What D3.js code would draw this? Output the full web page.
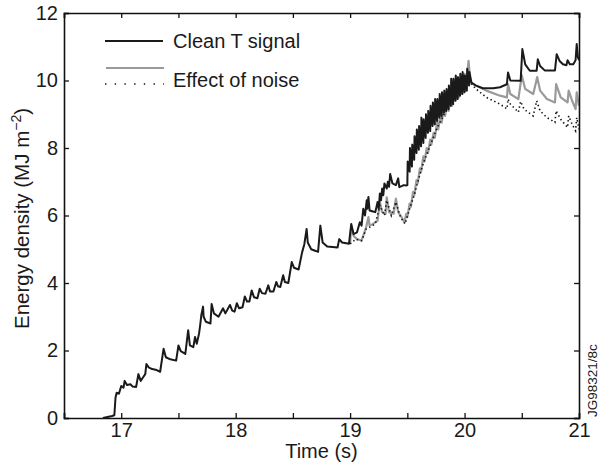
<!DOCTYPE html>
<html>
<head>
<meta charset="utf-8">
<script src="https://cdnjs.cloudflare.com/ajax/libs/d3/7.8.5/d3.min.js"></script>
<style>
  body { margin: 0; background: #fff; }
  svg text { font-family: "Liberation Sans", Arial, sans-serif; fill: #1a1a1a; }
</style>
</head>
<body>
<div id="chart"></div>
<script>
// axis ticks
const xTicks = [16.5, 17, 17.5, 18, 18.5, 19, 19.5, 20, 20.5, 21];
const xLabels = [17, 18, 19, 20, 21];
const yTicks = [0, 2, 4, 6, 8, 10, 12];

// clean T signal [time (s), energy density (MJ m^-2)]
const cleanSignal = [
  [16.84,0],[16.88,0.03],[16.92,0.06],[16.94,0.08],[16.95,0.6],[16.96,0.75],[16.98,0.72],
  [17.00,0.95],[17.02,0.9],[17.03,1.1],[17.05,0.98],[17.08,1.0],[17.10,0.93],[17.13,0.92],[17.15,1.3],
  [17.17,1.1],[17.19,1.2],[17.21,1.3],[17.22,1.6],[17.24,1.5],[17.27,1.45],[17.31,1.42],[17.34,1.37],
  [17.37,2.05],[17.39,1.8],[17.42,1.75],[17.48,1.7],[17.50,2.15],[17.52,1.98],[17.56,1.9],[17.585,2.6],
  [17.60,2.15],[17.63,2.1],[17.645,2.4],[17.66,2.2],[17.68,2.5],[17.69,2.75],[17.70,3.05],[17.715,3.3],
  [17.72,3.0],[17.74,2.85],[17.78,2.8],[17.79,3.38],[17.81,3.1],[17.85,3.0],[17.89,3.25],[17.91,3.1],
  [17.95,3.35],[17.97,3.18],[17.99,3.15],[18.01,3.4],[18.03,3.25],[18.06,3.28],[18.08,3.6],[18.10,3.45],
  [18.12,3.45],[18.14,3.78],[18.16,3.58],[18.19,3.55],[18.21,3.83],[18.23,3.7],[18.26,3.68],[18.285,3.93],
  [18.30,3.75],[18.33,3.75],[18.355,4.03],[18.37,3.9],[18.39,3.88],[18.415,4.23],[18.43,4.03],[18.46,4.0],
  [18.49,4.62],[18.51,4.45],[18.55,4.4],[18.58,4.9],[18.60,5.15],[18.62,5.6],[18.63,5.2],[18.66,5.0],
  [18.70,4.95],[18.72,4.92],[18.74,5.7],[18.76,5.2],[18.80,5.08],[18.89,5.05],[18.905,5.3],[18.93,5.2],
  [18.99,5.16],[19.01,5.75],[19.03,5.45],[19.06,5.5],[19.085,5.8],[19.10,5.7],[19.115,6.2],[19.13,6.0],
  [19.145,6.45],[19.15,6.2],[19.16,6.55],[19.17,6.15],[19.20,6.12],[19.22,6.1],[19.24,6.4],[19.25,6.2],
  [19.26,6.65],[19.27,6.45],[19.28,6.8],[19.29,6.6],[19.30,6.95],[19.32,6.8],[19.33,7.0],[19.34,6.85],
  [19.35,7.23],[19.37,6.95],[19.40,6.9],[19.42,7.1],[19.43,6.84],[19.47,6.9],[19.49,6.89],
  [19.500,6.90],[19.503,7.60],[19.520,7.30],[19.523,8.00],[19.540,7.45],[19.543,8.10],[19.560,7.65],
  [19.563,8.35],[19.580,7.85],[19.583,8.55],[19.600,7.95],[19.603,8.65],[19.620,8.05],[19.623,8.90],
  [19.640,8.15],[19.643,8.85],[19.660,8.30],[19.663,9.00],[19.680,8.45],[19.683,9.10],[19.700,8.50],
  [19.703,9.25],[19.720,8.65],[19.723,9.35],[19.740,8.70],[19.743,9.45],[19.760,8.80],[19.763,9.45],
  [19.780,8.90],[19.783,9.60],[19.800,8.95],[19.803,9.65],[19.820,9.05],[19.823,9.70],[19.840,9.10],
  [19.843,9.75],[19.860,9.15],[19.863,9.85],[19.880,9.25],[19.883,10.05],[19.900,9.30],[19.903,10.05],
  [19.920,9.40],[19.923,10.15],[19.940,9.45],[19.943,10.10],[19.960,9.55],[19.963,10.20],[19.980,9.60],
  [19.983,10.25],[20.000,9.65],[20.003,10.15],[20.020,9.70],[20.023,10.35],[20.040,9.85],[20.043,10.25],
  [20.06,9.94],[20.10,9.85],[20.16,9.77],[20.25,9.77],[20.31,9.8],[20.37,9.89],[20.38,10.24],[20.40,10.0],
  [20.49,9.99],[20.505,10.93],[20.53,10.48],[20.57,10.29],[20.63,10.29],[20.64,10.63],[20.66,10.43],
  [20.70,10.3],[20.79,10.3],[20.805,10.78],[20.83,10.58],[20.86,10.48],[20.89,10.45],[20.90,10.6],
  [20.92,10.48],[20.95,10.48],[20.97,10.6],[20.98,11.08],[20.99,10.7],[21.0,10.6]
];

// effect of noise, first case (grey line)
const noiseGrey = [
  [19.00,5.16],[19.01,5.7],[19.03,5.4],[19.06,5.3],[19.10,5.26],[19.12,5.45],[19.14,5.65],[19.16,5.95],
  [19.17,5.7],[19.20,5.75],[19.24,5.85],[19.26,6.39],[19.28,6.1],[19.31,6.05],[19.32,6.54],[19.34,6.1],
  [19.38,6.05],[19.40,6.5],[19.42,6.1],[19.45,5.95],[19.475,5.80],[19.49,6.05],[19.50,5.95],[19.52,6.35],
  [19.53,6.25],[19.55,6.70],[19.56,6.60],[19.58,7.05],[19.59,6.95],[19.61,7.40],[19.62,7.30],[19.64,7.75],
  [19.65,7.60],[19.67,8.00],[19.68,7.85],[19.70,8.25],[19.71,8.10],[19.73,8.45],[19.74,8.30],[19.76,8.75],
  [19.77,8.55],[19.79,9.00],[19.80,8.75],[19.82,9.20],[19.83,8.95],[19.85,9.40],[19.86,9.10],[19.88,9.55],
  [19.89,9.25],[19.91,9.70],[19.92,9.40],[19.94,9.85],[19.95,9.50],[19.97,10.00],[19.98,9.60],[20.00,10.20],
  [20.01,9.70],[20.035,10.58],[20.05,9.95],[20.07,9.9],[20.19,9.7],[20.31,9.55],[20.37,9.5],[20.38,9.89],
  [20.40,9.6],[20.47,9.45],[20.50,10.15],[20.53,9.75],[20.60,9.6],[20.635,10.1],[20.66,9.7],[20.72,9.45],
  [20.79,9.35],[20.80,9.89],[20.84,9.5],[20.90,9.35],[20.91,9.7],[20.94,9.4],[20.97,9.15],[20.98,9.65],
  [21.0,9.25]
];

// effect of noise, second case (dotted line)
const noiseDotted = [
  [19.00,5.16],[19.05,5.3],[19.10,5.25],[19.14,5.6],[19.17,5.65],[19.22,5.75],[19.26,6.3],[19.30,6.0],
  [19.32,6.45],[19.36,6.0],[19.40,6.4],[19.44,5.95],[19.48,5.75],[19.52,6.2],[19.56,6.6],[19.60,7.1],
  [19.64,7.55],[19.68,7.9],[19.72,8.25],[19.76,8.6],[19.80,8.85],[19.84,9.15],[19.88,9.4],[19.92,9.55],
  [19.96,9.75],[20.00,9.9],[20.03,10.2],[20.06,9.9],[20.10,9.75],[20.19,9.5],[20.31,9.3],[20.37,9.16],
  [20.38,9.45],[20.40,9.3],[20.47,9.06],[20.49,9.38],[20.52,9.15],[20.60,8.95],[20.63,9.4],[20.66,9.1],
  [20.72,8.9],[20.79,8.76],[20.80,9.1],[20.84,8.85],[20.90,8.61],[20.91,8.95],[20.94,8.7],[20.97,8.51],
  [20.98,8.9],[21.00,8.55]
];

const width = 601, height = 466;
const margin = {top: 13, right: 22, bottom: 48, left: 64};
const innerW = width - margin.left - margin.right;
const innerH = height - margin.top - margin.bottom;

const svg = d3.select("#chart").append("svg")
  .attr("width", width).attr("height", height);

const x = d3.scaleLinear().domain([16.5, 21]).range([0, innerW]);
const y = d3.scaleLinear().domain([0, 12]).range([innerH, 0]);

const g = svg.append("g").attr("transform", "translate(" + margin.left + "," + margin.top + ")");

g.append("clipPath").attr("id", "plot-clip")
  .append("rect").attr("width", innerW).attr("height", innerH);

const line = d3.line().x(d => x(d[0])).y(d => y(d[1]));
const lines = g.append("g").attr("clip-path", "url(#plot-clip)");

lines.append("path").datum(noiseGrey)
  .attr("d", line).attr("fill", "none")
  .attr("stroke", "#9a9a9a").attr("stroke-width", 2.2).attr("stroke-linejoin", "round");

lines.append("path").datum(noiseDotted)
  .attr("d", line).attr("fill", "none")
  .attr("stroke", "#111").attr("stroke-width", 1.6).attr("stroke-dasharray", "1.4,2.8");

lines.append("path").datum(cleanSignal)
  .attr("d", line).attr("fill", "none")
  .attr("stroke", "#1a1a1a").attr("stroke-width", 2).attr("stroke-linejoin", "round");

// axes, ticks point inward
const fmtX = d => xLabels.includes(d) ? d : "";
g.append("g").attr("class", "axis").attr("transform", "translate(0," + innerH + ")")
  .call(d3.axisBottom(x).tickValues(xTicks).tickFormat(fmtX).tickSize(-5).tickPadding(5));
g.append("g").attr("class", "axis")
  .call(d3.axisTop(x).tickValues(xTicks).tickFormat("").tickSize(-5));
g.append("g").attr("class", "axis")
  .call(d3.axisLeft(y).tickValues(yTicks).tickSize(-5).tickPadding(6));
g.append("g").attr("class", "axis").attr("transform", "translate(" + innerW + ",0)")
  .call(d3.axisRight(y).tickValues(yTicks).tickFormat("").tickSize(-5));

g.selectAll(".axis path").attr("stroke", "#111").attr("stroke-width", 1.6);
g.selectAll(".axis line").attr("stroke", "#111").attr("stroke-width", 1.3);
g.selectAll(".axis text").attr("font-size", 20).attr("fill", "#1a1a1a")
  .attr("font-family", "Liberation Sans, Arial, sans-serif");

// axis titles
svg.append("text")
  .attr("x", margin.left + innerW / 2).attr("y", 458)
  .attr("text-anchor", "middle").attr("font-size", 20).text("Time (s)");

const yt = svg.append("text")
  .attr("transform", "translate(29," + (margin.top + innerH / 2 + 3) + ") rotate(-90)")
  .attr("text-anchor", "middle").attr("font-size", 20.5);
yt.append("tspan").text("Energy density (MJ m");
yt.append("tspan").attr("dy", -8).attr("font-size", 14).text("\u22122");
yt.append("tspan").attr("dy", 8).text(")");

svg.append("text")
  .attr("transform", "translate(597,417) rotate(-90)")
  .attr("text-anchor", "start").attr("font-size", 13.5).text("JG98321/8c");

// legend
const legend = [
  {label: "Clean T signal", y: 41},
  {label: "Effect of noise", y: 80}
];
svg.append("line").attr("x1", 105).attr("x2", 163).attr("y1", 41).attr("y2", 41)
  .attr("stroke", "#1a1a1a").attr("stroke-width", 1.8);
svg.append("line").attr("x1", 106).attr("x2", 164).attr("y1", 68).attr("y2", 68)
  .attr("stroke", "#9a9a9a").attr("stroke-width", 2);
svg.append("line").attr("x1", 105).attr("x2", 164).attr("y1", 84).attr("y2", 84)
  .attr("stroke", "#111").attr("stroke-width", 1.6).attr("stroke-dasharray", "1.4,8.3");
svg.selectAll(".leg").data(legend).enter().append("text")
  .attr("class", "leg")
  .attr("x", 173).attr("y", d => d.y).attr("dy", "0.35em")
  .attr("font-size", 20).text(d => d.label);
</script>
</body>
</html>
